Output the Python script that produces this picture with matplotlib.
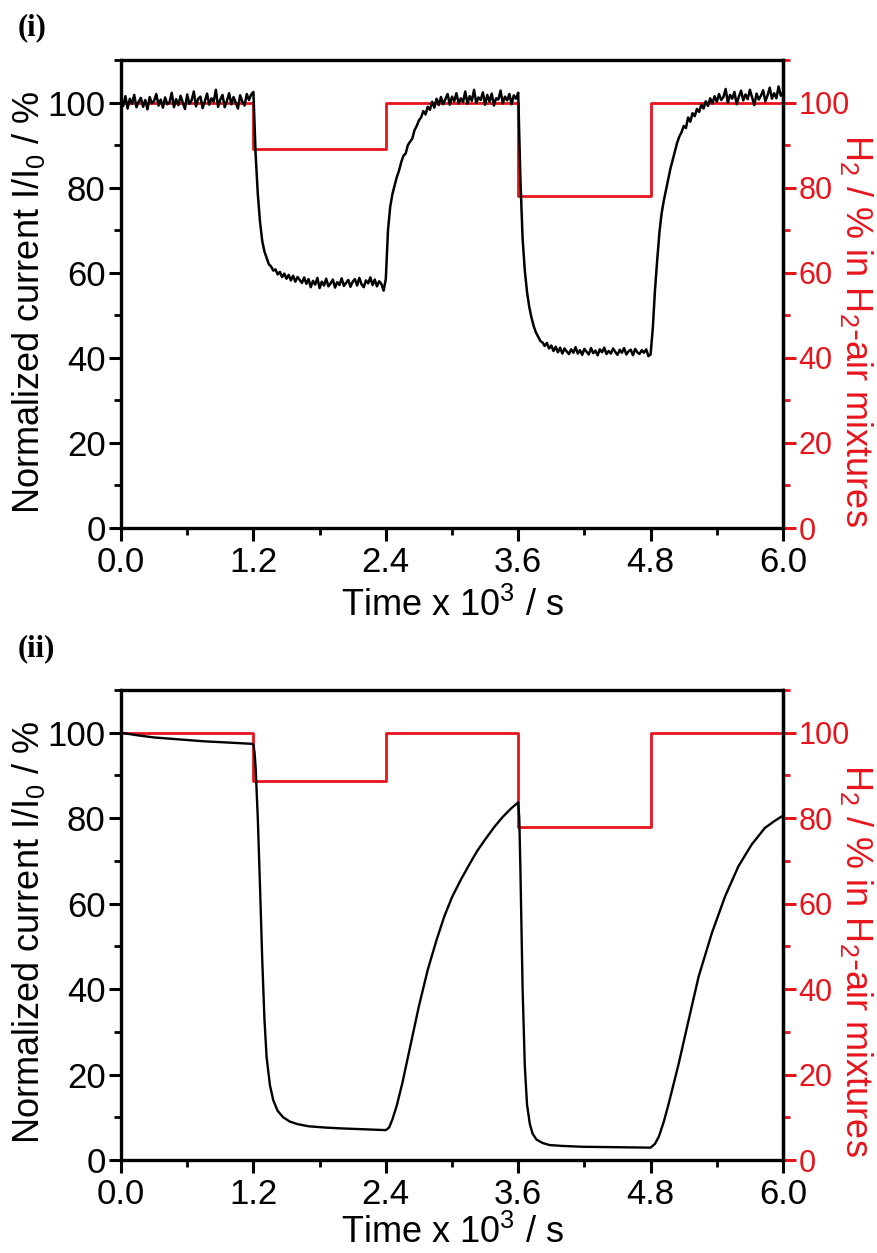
import numpy as np
import matplotlib
matplotlib.use("Agg")
import matplotlib.pyplot as plt
from matplotlib.ticker import MultipleLocator

plt.rcParams['font.family'] = ['Liberation Sans', 'DejaVu Sans']
plt.rcParams['mathtext.fontset'] = 'custom'
plt.rcParams['mathtext.rm'] = 'Liberation Sans'
plt.rcParams['mathtext.it'] = 'Liberation Sans:italic'
plt.rcParams['mathtext.bf'] = 'Liberation Sans:bold'

# ---------------- data ----------------
# H2 concentration steps (shared time edges)
h2_time = [0.0, 1.2, 1.2, 2.4, 2.4, 3.6, 3.6, 4.8, 4.8, 6.0]
h2_pct_i = [100, 100, 89, 89, 100, 100, 78, 78, 100, 100]
h2_pct_ii = [100, 100, 88.6, 88.6, 100, 100, 78, 78, 100, 100]

# panel (i): normalized current, sampled every 0.02 x10^3 s (301 readings)
current_i = [
    100.8, 99.2, 101.5, 98.6, 100.9, 99.7, 101.8, 98.9, 100.2, 101.1,
    99.0, 100.6, 98.4, 101.3, 99.8, 100.4, 102.0, 99.3, 100.7, 98.8,
    101.2, 99.6, 100.1, 102.3, 98.9, 100.8, 99.4, 101.6, 100.0, 98.5,
    101.9, 99.7, 100.5, 102.6, 99.1, 100.9, 101.4, 98.7, 100.3, 102.1,
    99.5, 101.0, 100.2, 103.0, 99.0, 100.7, 101.8, 98.9, 100.4, 102.2,
    99.6, 101.3, 100.0, 98.6, 101.7, 100.2, 99.3, 102.0, 100.6, 101.9,
    102.5,
    88.0, 78.5, 72.0, 67.5, 65.0, 63.5, 62.0, 61.5, 60.5, 60.8,
    59.6, 60.2, 59.0, 59.8, 58.6, 59.5, 58.2, 59.3, 57.9, 59.0,
    58.3, 57.6, 58.9, 57.4, 58.5, 56.6, 58.1, 57.2, 58.8, 56.4,
    57.9, 57.0, 58.6, 56.8, 57.5, 58.4, 56.5, 57.8, 57.1, 58.7,
    56.9, 57.6, 58.3, 56.7, 57.9, 58.5, 57.0, 58.8, 57.3, 56.6,
    58.2, 57.5, 58.9, 57.1, 58.4, 56.8, 58.0, 57.4, 55.8,
    58.5,
    70.0, 75.5, 78.5, 80.5, 82.5, 84.0, 86.0, 87.5, 88.0, 90.0,
    90.8, 91.5, 93.5, 94.5, 95.8, 96.5, 98.0, 97.2, 99.0, 98.3,
    100.2, 98.8, 100.9, 99.4, 101.3, 99.6, 100.8, 102.0, 99.5, 101.4,
    100.3, 102.2, 99.8, 101.0, 100.1, 102.6, 99.7, 101.5, 100.4, 103.0,
    99.9, 101.2, 100.6, 102.4, 99.5, 101.8, 100.2, 102.1, 99.3, 101.0,
    100.7, 102.8, 99.8, 101.4, 100.5, 102.0, 99.6, 101.7, 100.9,
    102.3,
    82.0, 68.0, 60.5, 55.5, 52.0, 49.5, 47.5, 46.0, 45.0, 44.0,
    43.6, 42.8, 43.5, 42.2, 42.9, 41.6, 42.6, 41.3, 42.4, 41.0,
    42.2, 41.5, 40.9, 42.0, 41.2, 42.5, 41.0, 41.8, 40.7, 42.1,
    41.4, 40.8, 42.3, 41.1, 41.7, 40.6, 42.0, 41.3, 42.4, 40.9,
    41.6, 41.0, 42.2, 41.4, 40.7, 41.9, 41.2, 42.3, 40.8, 41.5,
    41.9, 40.6, 42.1, 41.3, 40.9, 41.8, 41.2, 42.0, 40.4,
    40.8,
    47.0, 56.0, 63.0, 69.5, 74.0, 77.0, 79.5, 82.0, 84.5, 86.5,
    88.5, 90.5, 92.0, 93.0, 94.5, 94.0, 96.5, 95.5, 97.5, 96.8,
    98.5, 97.8, 99.5, 98.6, 100.3, 99.2, 101.0, 99.8, 101.5, 100.2,
    102.0, 100.6, 101.3, 103.2, 100.0, 101.8, 100.9, 102.5, 99.6, 101.4,
    102.8, 100.5, 101.9, 100.8, 103.0, 101.2, 99.4, 102.1, 100.7, 101.6,
    102.9, 100.3, 101.7, 103.5, 100.9, 102.2, 101.0, 103.8, 101.6, 102.4,
]
time_i = np.round(np.arange(len(current_i)) * 0.02, 2)

# panel (ii): smooth normalized current readings
time_ii = [0.0, 0.15, 0.3, 0.45, 0.6, 0.75, 0.9, 1.05, 1.19, 1.2, 1.21, 1.22,
           1.24, 1.26, 1.28, 1.30, 1.32, 1.35, 1.38, 1.42, 1.47, 1.53, 1.60,
           1.70, 1.85, 2.0, 2.2, 2.4, 2.43, 2.46, 2.5, 2.55, 2.6, 2.65, 2.7,
           2.78, 2.86, 2.93, 3.0, 3.08, 3.16, 3.23, 3.3, 3.385, 3.46, 3.536,
           3.6, 3.61, 3.62, 3.64, 3.66, 3.68, 3.705, 3.73, 3.765, 3.82, 3.885,
           4.0, 4.185, 4.5, 4.8, 4.84, 4.875, 4.92, 4.965, 5.055, 5.145, 5.235,
           5.355, 5.475, 5.595, 5.715, 5.835, 5.92, 6.0]
current_ii = [100.0, 99.4, 98.9, 98.6, 98.3, 98.0, 97.8, 97.6, 97.4, 97.2, 95.5, 92.0,
              80.0, 64.0, 47.0, 33.0, 24.0, 17.5, 14.0, 11.5, 10.0, 9.0, 8.4,
              7.9, 7.6, 7.4, 7.2, 7.0, 7.6, 9.5, 12.8, 18.0, 24.0, 30.0, 36.0,
              44.5, 51.5, 57.0, 61.5, 65.6, 69.3, 72.4, 75.0, 78.0, 80.3, 82.3,
              83.7, 80.0, 68.0, 40.0, 22.0, 13.0, 8.5, 6.2, 4.8, 4.0, 3.5,
              3.3, 3.1, 3.0, 2.9, 3.8, 5.5, 9.0, 13.3, 22.6, 32.8, 42.9,
              53.1, 61.7, 68.7, 73.8, 77.7, 79.3, 80.6]

x_ticks = [0.0, 1.2, 2.4, 3.6, 4.8, 6.0]
x_tick_labels = ["0.0", "1.2", "2.4", "3.6", "4.8", "6.0"]
y_ticks = [0, 20, 40, 60, 80, 100]

RED = '#e8141c'

fig = plt.figure(figsize=(8.78, 12.53), dpi=100)
W, H = 878.0, 1253.0

def make_panel(rect, t, cur, h2, lw_black, yoff, xlabelpad):
    ax = fig.add_axes(rect)
    ax.plot(t, cur, color='black', lw=lw_black, zorder=2)
    ax.set_xlim(0, 6.0)
    ax.set_ylim(0, 110)
    ax.set_xticks(x_ticks)
    ax.set_xticklabels(x_tick_labels)
    ax.xaxis.set_minor_locator(MultipleLocator(0.6))
    ax.set_yticks(y_ticks)
    ax.yaxis.set_minor_locator(MultipleLocator(10))
    ax.tick_params(axis='both', which='major', direction='out', length=9, width=2.2)
    ax.tick_params(axis='both', which='minor', direction='out', length=5, width=2.0)
    ax.tick_params(axis='y', labelsize=25, pad=2)
    ax.tick_params(axis='x', labelsize=25, pad=4)
    ax.tick_params(top=False, right=False, which='both')
    for s in ax.spines.values():
        s.set_linewidth(2.4)
    ax.set_xlabel(r"Time x 10$^{\mathregular{3}}$ / s", fontsize=26, labelpad=xlabelpad)

    ax2 = ax.twinx()
    ax2.plot(h2_time, h2, color=RED, lw=2.0, zorder=3)
    ax2.set_ylim(0, 110)
    ax2.set_yticks(y_ticks)
    ax2.yaxis.set_minor_locator(MultipleLocator(10))
    ax2.tick_params(axis='y', which='major', direction='out', length=9, width=2.2,
                    colors=RED, labelsize=22, pad=2)
    ax2.tick_params(axis='y', which='minor', direction='out', length=5, width=2.0,
                    colors=RED)
    ax2.spines['right'].set_color(RED)
    ax2.spines['right'].set_linewidth(2.4)
    for k in ('left', 'top', 'bottom'):
        ax2.spines[k].set_visible(False)
    ax.set_zorder(ax2.get_zorder() + 1)
    ax.patch.set_visible(False)

    fig.text(29 / W, 1 - (302 + yoff) / H,
             r"Normalized current I/I$_{\mathregular{0}}$ / %",
             fontsize=26, rotation=90, ha='center', va='center')
    fig.text(857 / W, 1 - (330 + yoff) / H,
             r"H$_{\mathregular{2}}$ / % in H$_{\mathregular{2}}$-air mixtures",
             fontsize=26, rotation=270, ha='center', va='center', color=RED)
    return ax, ax2

make_panel([0.1378, 0.5786, 0.754, 0.3735], time_i, current_i, h2_pct_i, 1.8, 0, 6)
make_panel([0.1378, 0.0742, 0.754, 0.3751], time_ii, current_ii, h2_pct_ii, 1.7, 630, 3)

fig.text(0.020, 1 - 13 / H, "(i)", fontsize=22, fontweight='bold',
         family=['Liberation Serif', 'DejaVu Serif'], va='top', ha='left')
fig.text(0.020, 1 - 634 / H, "(ii)", fontsize=22, fontweight='bold',
         family=['Liberation Serif', 'DejaVu Serif'], va='top', ha='left')

fig.savefig("out.png", dpi=100)
